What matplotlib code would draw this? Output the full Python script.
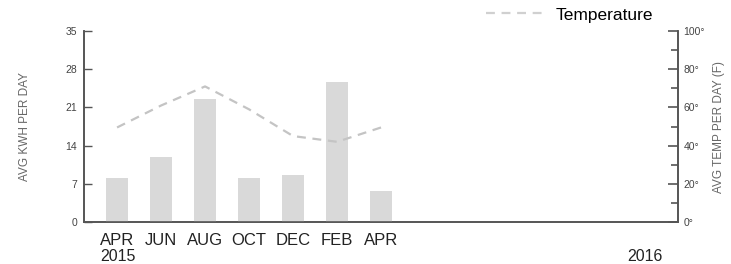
import matplotlib.pyplot as plt
import numpy as np

plt.rcParams['font.family'] = ['Liberation Sans', 'DejaVu Sans']

# data (bi-monthly, Apr 2015 .. Apr 2016)
months = ['APR', 'JUN', 'AUG', 'OCT', 'DEC', 'FEB', 'APR']
kwh = [8.0, 12.0, 22.6, 8.1, 8.6, 25.6, 5.7]
temp = [49.5, 61, 71, 59, 45, 42, 49.5]
years = ['2015', '2016']

x = np.arange(len(months)) * 2  # month offsets from APR 2015

fig = plt.figure(figsize=(7.31, 2.64), dpi=100)
ax = fig.add_axes([0.115, 0.159, 0.8125, 0.7235])
ax2 = ax.twinx()

bar_color = '#d9d9d9'
axis_color = '#555555'

ax.bar(x, kwh, width=1.0, color=bar_color, zorder=3)
ax.set_xlim(-1.5, 25.5)
ax.set_ylim(0, 35)
ax.set_yticks([0, 7, 14, 21, 28, 35])
ax.set_xticks(x)
ax.set_xticklabels(months, fontsize=12, color='#222222')
ax.tick_params(axis='x', length=0, pad=8)
ax.tick_params(axis='y', direction='in', length=6, width=1, colors=axis_color,
               labelsize=7.5, labelcolor='#444444', pad=5)
ax.set_ylabel('AVG KWH PER DAY', fontsize=8.5, color='#666666', labelpad=25)

ax2.plot(x, temp, color='#c4c4c4', lw=1.6, ls=(0, (4, 3)), label='Temperature', zorder=4)
ax2.set_ylim(0, 100)
ax2.set_yticks(np.arange(0, 101, 20))
ax2.set_yticklabels([f'{v}°' for v in range(0, 101, 20)])
ax2.set_yticks(np.arange(10, 100, 20), minor=True)
ax2.tick_params(axis='y', which='major', direction='in', length=7, width=1.2,
                colors=axis_color, labelsize=7.5, labelcolor='#444444', pad=4)
ax2.tick_params(axis='y', which='minor', direction='in', length=5, width=1.2,
                colors=axis_color)
ax2.set_ylabel('AVG TEMP PER DAY (F)', fontsize=8.5, color='#666666', labelpad=6)

for a in (ax, ax2):
    a.spines['top'].set_visible(False)
    for s in ('left', 'right', 'bottom'):
        a.spines[s].set_color(axis_color)
        a.spines[s].set_linewidth(1.2)

# year labels under the axis
ax.text(0 - 0.75, -0.14, years[0], transform=ax.get_xaxis_transform(),
        fontsize=11.5, color='#222222', ha='left', va='top')
ax.text(24, -0.14, years[1], transform=ax.get_xaxis_transform(),
        fontsize=11.5, color='#222222', ha='center', va='top')

leg = ax2.legend(loc='lower right', bbox_to_anchor=(0.975, 0.99), frameon=False,
                 fontsize=12.5, handlelength=3.3, handletextpad=0.7, borderaxespad=0.2)
leg.get_lines()[0].set_color('#d0d0d0')

fig.savefig('out.png', dpi=100)
